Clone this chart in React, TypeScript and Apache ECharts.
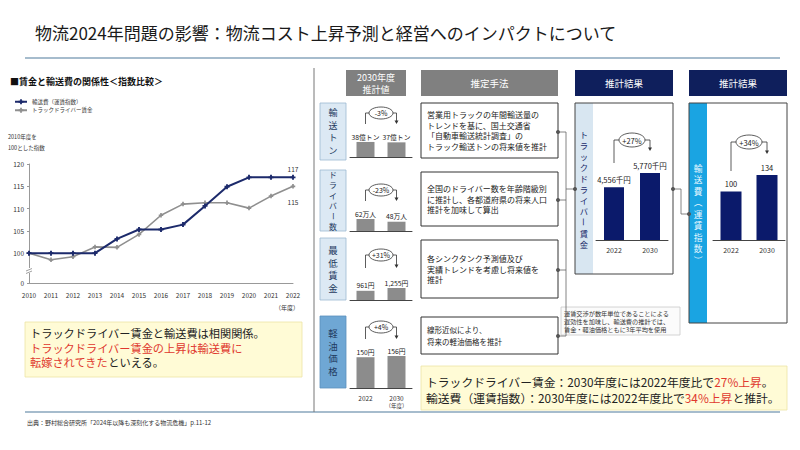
import { useEffect, useRef } from "react";
import * as echarts from "echarts";

const FONT = '"Noto Sans CJK JP", "Noto Sans", sans-serif';

// 賃金と輸送費の関係性（2010年度=100）
const years = ["2010", "2011", "2012", "2013", "2014", "2015", "2016", "2017", "2018", "2019", "2020", "2021", "2022"];
const freightIndex = [100, 100, 100, 100, 103.2, 105.3, 105.3, 106.4, 110.6, 114.9, 117, 117, 117];
const driverWageIndex = [100, 98.5, 99.2, 101.4, 101.3, 104.2, 108.5, 111.0, 111.3, 111.3, 110.1, 112.8, 115];
const indexTicks = [100, 105, 110, 115, 120];
const brokenAxisLabel = "0";

// 2030年度推計値（2022年度 → 2030年度）
const estimateYears = ["2022", "2030"];
const tonnage = [38, 37];
const driverCount = [62, 48];
const minimumWage = [961, 1255];
const dieselPrice = [150, 156];
const estimateUnits = ["億トン", "万人", "円", "円"];
const estimateLabels = ["輸送トン", "ドライバー数", "最低賃金", "軽油価格"];
const methodTexts = [
  "営業用トラックの年間輸送量の\nトレンドを基に、国土交通省\n「自動車輸送統計調査」の\nトラック輸送トンの将来値を推計",
  "全国のドライバー数を年齢階級別\nに推計し、各都道府県の将来人口\n推計を加味して算出",
  "各シンクタンク予測値及び\n実績トレンドを考慮し将来値を\n推計",
  "線形近似により、\n将来の軽油価格を推計",
];

// 推計結果
const driverPay = [4556, 5770];
const freightForecast = [100, 134];

const TITLE = "物流2024年問題の影響：物流コスト上昇予測と経営へのインパクトについて";
const SOURCE = "出典：野村総合研究所「2024年以降も深刻化する物流危機」p.11-12";
const NOTE = "運賃交渉が数年単位であることによる\n遅効性を加味し、輸送費の推計では、\n賃金・軽油価格ともに3年平均を使用";

// ---- layout ----
const Y_FLOOR = 93.3;
const LINE_GRID = { left: 29, top: 164, width: 264, height: 119 };
const V_RATIO = 1.32; // glyph pitch / font size for stacked vertical labels

const MINI_LEFT = 350;
const MINI_WIDTH = 62;
const MINI_H = 40;
const ROWS = [
  { values: tonnage, top: 103, bottom: 160, mTop: 103, mBottom: 158, base: 157, yMax: 101, cy: 113, y1: 124, step: 12.8, fs: 9 },
  { values: driverCount, top: 170, bottom: 231, mTop: 172, mBottom: 226, base: 231, yMax: 207, cy: 190, y1: 201, step: 10.4, fs: 0 },
  { values: minimumWage, top: 238, bottom: 300, mTop: 240, mBottom: 298, base: 300, yMax: 4183, cy: 255, y1: 268, step: 12.5, fs: 0 },
  { values: dieselPrice, top: 316, bottom: 388, mTop: 317, mBottom: 354, base: 388, yMax: 195, cy: 327, y1: 339, step: 12.5, fs: 0 },
];

const RES1 = { left: 596, width: 72, top: 160, height: 80, yMax: 6900 };
const RES2 = { left: 713, width: 72, top: 160, height: 80, yMax: 165 };

const pct = (a: number, b: number) => {
  const p = Math.round((b / a - 1) * 100);
  return (p > 0 ? "+" : "") + p + "%";
};
const fmt = (v: number) => v.toLocaleString("en-US");

function txt(x: number, y: number, text: string, o: any = {}) {
  const align = o.align || "left";
  const va = o.verticalAlign || "middle";
  return {
    type: "text",
    x,
    y,
    z: o.z || 5,
    rotation: o.rotation || 0,
    style: {
      text,
      fontFamily: FONT,
      fontSize: o.fontSize || 8,
      fontWeight: o.fontWeight || "normal",
      fill: o.fill || "#222",
      lineHeight: o.lineHeight,
      align,
      textAlign: align,
      verticalAlign: va,
      textVerticalAlign: va,
      rich: o.rich,
    },
  };
}

function rect(x: number, y: number, w: number, h: number, fill: string, stroke?: string, lw = 1, z = 1) {
  return {
    type: "rect",
    z,
    shape: { x, y, width: w, height: h },
    style: { fill, stroke: stroke || null, lineWidth: stroke ? lw : 0 },
  };
}

function line(x1: number, y1: number, x2: number, y2: number, stroke: string, lw = 1, z = 2) {
  return { type: "line", z, shape: { x1, y1, x2, y2 }, style: { stroke, lineWidth: lw } };
}

function dot(cx: number, cy: number) {
  return { type: "circle", z: 3, shape: { cx, cy, r: 2 }, style: { fill: "#555" } };
}

// vertical writing: one glyph per line, long-vowel mark and brackets turned upright
function verticalText(chars: string, cx: number, cy: number, step: number, fill: string, fs = 0) {
  const arr = Array.from(chars);
  const n = arr.length;
  const fontSize = fs || step / V_RATIO;
  return arr.map((ch, i) =>
    txt(cx, cy + (i - (n - 1) / 2) * step, ch, {
      align: "center",
      fontSize,
      fill,
      rotation: "ー（）".includes(ch) ? -Math.PI / 2 : 0,
    })
  );
}

// change bracket: line from the first bar, ellipse with the rate, arrow down to the second bar
function bracket(x1: number, x2: number, cy: number, y1: number, y2: number, rx: number, ry: number, text: string, fs: number) {
  const cx = (x1 + x2) / 2;
  const st = { stroke: "#333", lineWidth: 0.8, fill: null };
  return [
    { type: "polyline", z: 3, shape: { points: [[x1, y1], [x1, cy], [cx - rx, cy]] }, style: st },
    { type: "polyline", z: 3, shape: { points: [[cx + rx, cy], [x2, cy], [x2, y2 - 3]] }, style: st },
    { type: "polygon", z: 3, shape: { points: [[x2 - 2, y2 - 3.5], [x2 + 2, y2 - 3.5], [x2, y2]] }, style: { fill: "#333" } },
    { type: "ellipse", z: 3, shape: { cx, cy, rx, ry }, style: { fill: "#fff", stroke: "#333", lineWidth: 0.8 } },
    txt(cx, cy, text, { align: "center", fontSize: fs, z: 4 }),
  ];
}

function buildOption() {
  const miniCenters = [MINI_LEFT + MINI_WIDTH / 4, MINI_LEFT + (MINI_WIDTH * 3) / 4];
  const r1c = [RES1.left + RES1.width / 4, RES1.left + (RES1.width * 3) / 4];
  const r2c = [RES2.left + RES2.width / 4, RES2.left + (RES2.width * 3) / 4];

  const grids: any[] = [
    { ...LINE_GRID },
    ...ROWS.map((r) => ({ left: MINI_LEFT, width: MINI_WIDTH, top: r.base - MINI_H, height: MINI_H })),
    { left: RES1.left, width: RES1.width, top: RES1.top, height: RES1.height },
    { left: RES2.left, width: RES2.width, top: RES2.top, height: RES2.height },
  ];

  const xAxes: any[] = [
    {
      gridIndex: 0,
      type: "category",
      data: years,
      boundaryGap: false,
      axisLine: { lineStyle: { color: "#999", width: 1 } },
      axisTick: { show: false },
      axisLabel: { fontSize: 6.5, color: "#333", margin: 9, fontFamily: FONT, interval: 0 },
    },
    ...ROWS.map((_, i) => ({
      gridIndex: i + 1,
      type: "category",
      data: estimateYears,
      axisLine: { lineStyle: { color: "#444", width: 1 } },
      axisTick: { show: false },
      axisLabel: {
        show: i === 3,
        interval: 0,
        hideOverlap: false,
        fontSize: 6.5,
        color: "#333",
        margin: 6,
        fontFamily: FONT,
        lineHeight: 8.5,
        formatter: (v: string, idx: number) => (idx === 1 ? `${v}\n{u|（年度）}` : v),
        rich: { u: { fontSize: 5.5, color: "#333", fontFamily: FONT, lineHeight: 7.5 } },
      },
    })),
    ...[5, 6].map((g) => ({
      gridIndex: g,
      type: "category",
      data: estimateYears,
      axisLine: { lineStyle: { color: "#444", width: 1 } },
      axisTick: { show: false },
      axisLabel: { fontSize: 7, color: "#333", margin: 6, fontFamily: FONT, interval: 0 },
    })),
  ];

  const yTickValues = [Y_FLOOR, ...indexTicks];
  const yAxes: any[] = [
    {
      gridIndex: 0,
      type: "value",
      min: Y_FLOOR,
      max: 120,
      splitLine: { show: false },
      axisLine: { show: true, lineStyle: { color: "#999", width: 1 } },
      axisTick: { show: true, length: 2, customValues: yTickValues, lineStyle: { color: "#999" } },
      axisLabel: {
        customValues: yTickValues,
        formatter: (v: number) => (Math.abs(v - Y_FLOOR) < 1e-6 ? brokenAxisLabel : String(v)),
        fontSize: 6.5,
        color: "#333",
        margin: 5,
        fontFamily: FONT,
      },
    },
    ...ROWS.map((r, i) => ({ gridIndex: i + 1, type: "value", min: 0, max: r.yMax, show: false })),
    { gridIndex: 5, type: "value", min: 0, max: RES1.yMax, show: false },
    { gridIndex: 6, type: "value", min: 0, max: RES2.yMax, show: false },
  ];

  const last = years.length - 1;
  const plus = "path://M2.5,0H5.5V2.5H8V5.5H5.5V8H2.5V5.5H0V2.5H2.5Z";

  const series: any[] = [
    {
      name: "輸送費（運賃指数）",
      type: "line",
      xAxisIndex: 0,
      yAxisIndex: 0,
      data: freightIndex,
      color: "#1c2a6b",
      lineStyle: { width: 2 },
      symbol: plus,
      symbolSize: 5,
      z: 4,
      label: {
        show: true,
        position: "top",
        distance: 3,
        fontSize: 6.5,
        color: "#333",
        fontFamily: FONT,
        formatter: (p: any) => (p.dataIndex === last ? String(Math.round(p.value)) : ""),
      },
    },
    {
      name: "トラックドライバー賃金",
      type: "line",
      xAxisIndex: 0,
      yAxisIndex: 0,
      data: driverWageIndex,
      color: "#8f8f8f",
      lineStyle: { width: 1.6 },
      symbol: plus,
      symbolSize: 4.5,
      z: 3,
      label: {
        show: true,
        position: "bottom",
        distance: 10,
        fontSize: 6.5,
        color: "#333",
        fontFamily: FONT,
        formatter: (p: any) => (p.dataIndex === last ? String(Math.round(p.value)) : ""),
      },
    },
    ...ROWS.map((r, i) => ({
      type: "bar",
      xAxisIndex: i + 1,
      yAxisIndex: i + 1,
      data: r.values,
      barWidth: 18,
      itemStyle: { color: "#8c8c8c" },
      label: {
        show: true,
        position: "top",
        distance: 2,
        fontSize: 6.8,
        color: "#222",
        fontFamily: FONT,
        formatter: (p: any) => fmt(p.value) + estimateUnits[i],
      },
    })),
    {
      type: "bar",
      xAxisIndex: 5,
      yAxisIndex: 5,
      data: driverPay,
      barWidth: 20,
      itemStyle: { color: "#0b1a6b" },
      label: {
        show: true,
        position: "top",
        distance: 4,
        fontSize: 7.5,
        color: "#222",
        fontFamily: FONT,
        formatter: (p: any) => fmt(p.value) + "千円",
      },
    },
    {
      type: "bar",
      xAxisIndex: 6,
      yAxisIndex: 6,
      data: freightForecast,
      barWidth: 21,
      itemStyle: { color: "#0b1a6b" },
      label: { show: true, position: "top", distance: 4, fontSize: 7.5, color: "#222", fontFamily: FONT },
    },
  ];

  const g: any[] = [];

  // title and rules
  g.push(txt(35, 32, TITLE, { fontSize: 17, fill: "#1a1a1a" }));
  g.push(line(25, 58, 780, 58, "#a6bccd", 2));
  g.push(line(25, 412, 780, 412, "#a6bccd", 2));
  g.push(txt(27, 422, SOURCE, { fontSize: 6, fill: "#333" }));

  // left panel
  g.push(txt(10, 81, "■賃金と輸送費の関係性＜指数比較＞", { fontSize: 9, fontWeight: "bold", fill: "#111" }));
  g.push(txt(8, 142, "2010年度を\n100とした指数", { fontSize: 5.5, lineHeight: 11, fill: "#333" }));
  g.push(txt(287, 307, "（年度）", { fontSize: 6, align: "center", fill: "#333" }));
  // axis break
  g.push(rect(26, 268, 7, 5, "#fff", undefined, 0, 100));
  g.push(line(26, 271, 32, 268.5, "#888", 0.8, 101));
  g.push(line(26, 273.5, 32, 271, "#888", 0.8, 101));

  g.push(rect(25, 322, 277, 55, "#fffbd6", "#ece4a4", 0.8));
  g.push(
    txt(30, 326, "{k|トラックドライバー賃金と輸送費は相関関係。}\n{r|トラックドライバー賃金の上昇は輸送費に}\n{r|転嫁されてきた}{k|といえる。}", {
      verticalAlign: "top",
      rich: {
        k: { fill: "#222", fontSize: 11.2, fontFamily: FONT, lineHeight: 14.5 },
        r: { fill: "#e0382e", fontSize: 11.2, fontFamily: FONT, lineHeight: 14.5 },
      },
    })
  );

  // middle panel
  g.push(line(314, 68, 314, 412, "#777", 1));
  g.push(rect(346, 70, 60, 26, "#808080"));
  g.push(txt(376, 83, "2030年度\n推計値", { align: "center", fontSize: 9, lineHeight: 12, fill: "#fff" }));
  g.push(rect(421, 70, 137, 26, "#808080"));
  g.push(txt(489.5, 83, "推定手法", { align: "center", fontSize: 9.5, fill: "#fff" }));

  ROWS.forEach((r, i) => {
    const dark = i === 3;
    g.push(rect(320, r.top, 26, r.bottom - r.top, dark ? "#6fa7d4" : "#dce9f4", dark ? "#5a8fbd" : "#9cb9d2", 0.8));
    g.push(...verticalText(estimateLabels[i], 333, (r.top + r.bottom) / 2, r.step, "#1f3a5f", r.fs));
    g.push(rect(421, r.mTop, 137, r.mBottom - r.mTop, "#fff", "#333", 1));
    g.push(
      txt(427, (r.mTop + r.mBottom) / 2, methodTexts[i], {
        fontSize: i === 3 ? 7.5 : 8,
        lineHeight: i === 3 ? 11.5 : 10.5,
        fill: "#222",
      })
    );
    g.push(...bracket(miniCenters[0], miniCenters[1], r.cy, r.y1, r.y1, 12, 6, pct(r.values[0], r.values[1]), 7));
  });

  // connectors from methods to the wage result
  const dotsY = [132, 200, 270, 336];
  dotsY.forEach((y) => {
    g.push(line(558, y, 566, y, "#666", 0.8));
    g.push(dot(558, y));
  });
  g.push(line(566, 132, 566, 336, "#666", 0.8));
  g.push(line(566, 189, 575, 189, "#666", 0.8));
  g.push(dot(575, 189));

  // note
  g.push(rect(561, 307, 119, 28, "#fbfbfb", "#c9c9c9", 0.8));
  g.push(txt(564, 321, NOTE, { fontSize: 6.2, lineHeight: 8, fill: "#333" }));

  // result 1
  g.push(rect(575, 70, 98, 26, "#0f1f5c"));
  g.push(txt(624, 83, "推計結果", { align: "center", fontSize: 9.5, fill: "#fff" }));
  g.push(rect(575, 103, 18, 171, "#d8e6f1"));
  g.push(rect(575, 103, 98, 171, "none", "#444", 1, 2));
  g.push(...verticalText("トラックドライバー賃金", 584, 189, 11, "#1b2c6b"));
  g.push(...bracket(r1c[0], r1c[1], 140, 163, 151, 13, 7, pct(driverPay[0], driverPay[1]), 7.5));

  // link between results
  g.push(dot(673, 189));
  g.push({ type: "polyline", z: 2, shape: { points: [[673, 189], [681, 189], [681, 214], [689, 214]] }, style: { stroke: "#666", lineWidth: 0.8, fill: null } });
  g.push(dot(689, 214));

  // result 2
  g.push(rect(689, 70, 98, 26, "#0f1f5c"));
  g.push(txt(738, 83, "推計結果", { align: "center", fontSize: 9.5, fill: "#fff" }));
  g.push(rect(689, 103, 18, 220, "#1aa4e2"));
  g.push(rect(689, 103, 98, 220, "none", "#444", 1, 2));
  g.push(...verticalText("輸送費（運賃指数）", 698, 214, 11.5, "#e6f6ff"));
  g.push(...bracket(r2c[0], r2c[1], 142, 171, 154, 13, 7, pct(freightForecast[0], freightForecast[1]), 7.5));

  // conclusion
  g.push(rect(421, 366, 366, 44, "#fffbd6", "#ece4a4", 0.8));
  g.push(
    txt(
      426,
      373,
      "{k|トラックドライバー賃金：2030年度には2022年度比で}{r|27%上昇}{k|。}\n{k|輸送費（運賃指数）：2030年度には2022年度比で}{r|34%上昇}{k|と推計。}",
      {
        verticalAlign: "top",
        rich: {
          k: { fill: "#222", fontSize: 11.8, fontFamily: FONT, lineHeight: 16 },
          r: { fill: "#e0382e", fontSize: 11.8, fontFamily: FONT, lineHeight: 16 },
        },
      }
    )
  );

  return {
    animation: false,
    backgroundColor: "#fff",
    textStyle: { fontFamily: FONT },
    legend: {
      data: ["輸送費（運賃指数）", "トラックドライバー賃金"],
      orient: "vertical",
      left: 14,
      top: 99,
      itemWidth: 12,
      itemHeight: 6,
      itemGap: 3,
      padding: 0,
      textStyle: { fontSize: 5.5, color: "#333", fontFamily: FONT },
    },
    grid: grids,
    xAxis: xAxes,
    yAxis: yAxes,
    series,
    graphic: { elements: g },
  };
}

export default function App() {
  const ref = useRef<HTMLDivElement>(null);
  useEffect(() => {
    if (!ref.current) return;
    const chart = echarts.init(ref.current, undefined, { renderer: "svg", width: 800, height: 450 });
    chart.setOption(buildOption() as any);
    return () => chart.dispose();
  }, []);
  return (
    <div
      ref={ref}
      style={{ position: "fixed", left: 0, top: 0, width: 800, height: 450, background: "#fff" }}
    />
  );
}
